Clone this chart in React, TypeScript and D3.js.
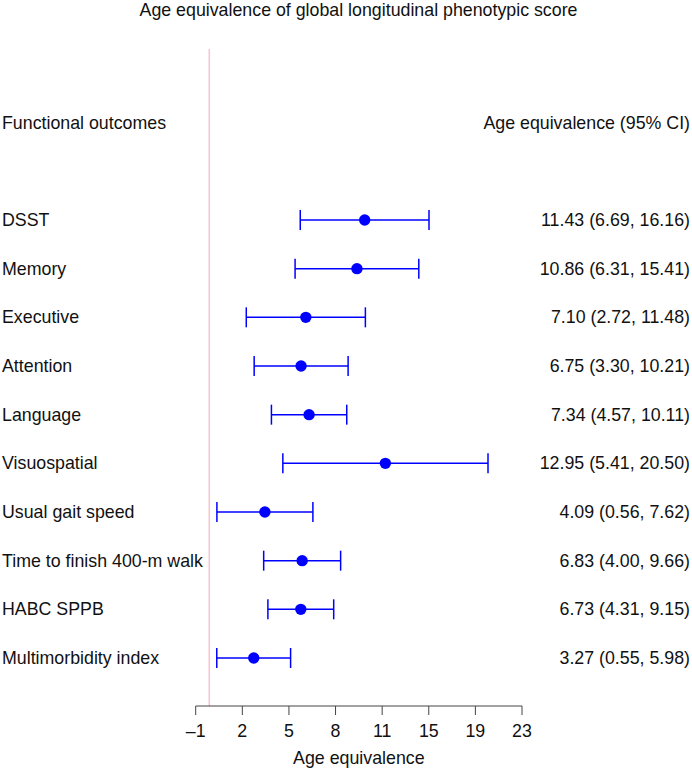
import React from "react";
import * as d3 from "d3";

const title = "Age equivalence of global longitudinal phenotypic score";
const outcomes = [
  "DSST",
  "Memory",
  "Executive",
  "Attention",
  "Language",
  "Visuospatial",
  "Usual gait speed",
  "Time to finish 400-m walk",
  "HABC SPPB",
  "Multimorbidity index",
];
const estimates = [11.43, 10.86, 7.10, 6.75, 7.34, 12.95, 4.09, 6.83, 6.73, 3.27];
const lower = [6.69, 6.31, 2.72, 3.30, 4.57, 5.41, 0.56, 4.00, 4.31, 0.55];
const upper = [16.16, 15.41, 11.48, 10.21, 10.11, 20.50, 7.62, 9.66, 9.15, 5.98];
const tickLabels = ["–1", "2", "5", "8", "11", "15", "19", "23"];
const axisMin = -1;
const axisMax = 23;
const refValue = 0;

const W = 692;
const H = 768;
const FONT = "'Liberation Sans', Arial, Helvetica, sans-serif";

export default function App() {
  const x = d3.scaleLinear().domain([axisMin, axisMax]).range([195.7, 522]);
  const y = d3.scaleLinear().domain([0, outcomes.length - 1]).range([220, 658]);
  const tickVals = d3.range(tickLabels.length).map(
    (i) => axisMin + (i * (axisMax - axisMin)) / (tickLabels.length - 1)
  );
  const axisY = 706;
  const fmt = d3.format(".2f");
  const blue = "#0000ff";
  const fs = 17.8;

  return (
    <svg
      width={W}
      height={H}
      style={{ position: "absolute", left: 0, top: 0, background: "#fff" }}
      fontFamily={FONT}
    >
      <rect width={W} height={H} fill="#fff" />
      <text x={358.5} y={16} textAnchor="middle" fontSize={fs} fill="#111">
        {title}
      </text>
      {/* reference line */}
      <line x1={x(refValue)} x2={x(refValue)} y1={49} y2={axisY} stroke="#ffc0cb" strokeWidth={1.5} />
      {/* headers */}
      <text x={2} y={y(-2) + 6} fontSize={fs} fill="#111">
        Functional outcomes
      </text>
      <text x={690} y={y(-2) + 6} fontSize={fs} fill="#111" textAnchor="end">
        Age equivalence (95% CI)
      </text>
      {outcomes.map((o, i) => {
        const yy = y(i);
        return (
          <g key={o}>
            <text x={2} y={yy + 6} fontSize={fs} fill="#111">
              {o}
            </text>
            <text x={690} y={yy + 6} fontSize={fs} fill="#111" textAnchor="end">
              {`${fmt(estimates[i])} (${fmt(lower[i])}, ${fmt(upper[i])})`}
            </text>
            <line x1={x(lower[i])} x2={x(upper[i])} y1={yy} y2={yy} stroke={blue} strokeWidth={1.5} />
            <line x1={x(lower[i])} x2={x(lower[i])} y1={yy - 10} y2={yy + 10} stroke={blue} strokeWidth={1.5} />
            <line x1={x(upper[i])} x2={x(upper[i])} y1={yy - 10} y2={yy + 10} stroke={blue} strokeWidth={1.5} />
            <circle cx={x(estimates[i])} cy={yy} r={5.7} fill={blue} />
          </g>
        );
      })}
      {/* axis */}
      <line x1={x(axisMin)} x2={x(axisMax)} y1={axisY} y2={axisY} stroke="#444" strokeWidth={1} />
      {tickVals.map((t, i) => (
        <g key={i}>
          <line x1={x(t)} x2={x(t)} y1={axisY} y2={axisY + 9} stroke="#444" strokeWidth={1} />
          <text x={x(t)} y={737} textAnchor="middle" fontSize={fs} fill="#111">
            {tickLabels[i]}
          </text>
        </g>
      ))}
      <text x={(x(axisMin) + x(axisMax)) / 2} y={764} textAnchor="middle" fontSize={fs} fill="#111">
        Age equivalence
      </text>
    </svg>
  );
}
